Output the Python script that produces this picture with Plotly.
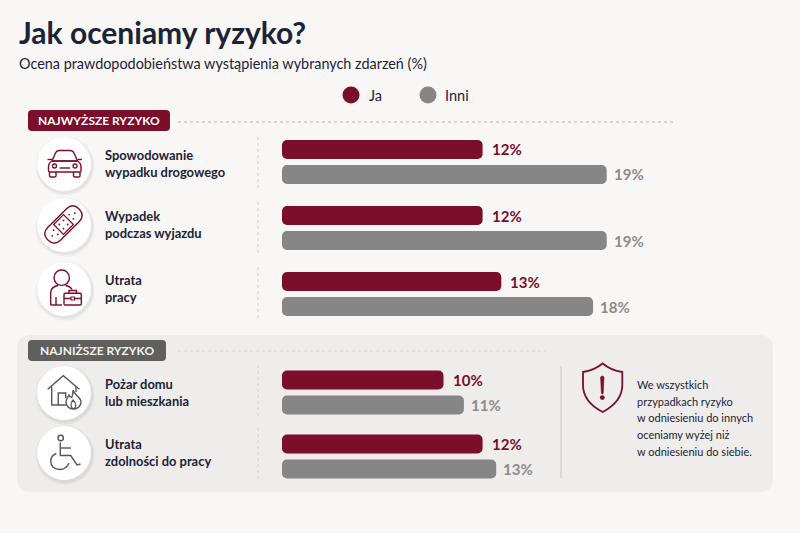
import plotly.graph_objects as go

categories = ["Spowodowanie<br>wypadku drogowego", "Wypadek<br>podczas wyjazdu", "Utrata<br>pracy",
              "Pożar domu<br>lub mieszkania", "Utrata<br>zdolności do pracy"]
ja_values = [11.8, 11.8, 12.9, 9.5, 11.8]
inni_values = [19.1, 19.1, 18.3, 10.7, 12.6]
ja_labels = ["12%", "12%", "13%", "10%", "12%"]
inni_labels = ["19%", "19%", "18%", "11%", "13%"]
series_names = ["Ja", "Inni"]
note_lines = ["We wszystkich", "przypadkach ryzyko", "w odniesieniu do innych", "oceniamy wyżej niż",
              "w odniesieniu do siebie."]

W, H = 800, 533
RED = "#7a0e2b"
GRAY = "#868686"
INK = "#1b2338"
FONT = "Lato"

# top of each row's pair of bars and of its icon circle, in page pixels
row_tops = [137, 203, 269, 367.5, 431.5]
row_height = 50
icon_y = [164, 225, 289, 393, 453]
divider_y = [(137, 188), (202, 253), (267, 318), (365, 416), (428, 482)]
note_y = [384, 401, 417, 434, 451]

shapes = []


def add_path(path, color=RED, width=1.4, fill="rgba(0,0,0,0)"):
    shapes.append(dict(type="path", path=path, xref="x", yref="y", layer="above", fillcolor=fill,
                       line=dict(color=color, width=width)))


def add_circle(cx, cy, r, fill="white", color=None, width=0, layer="below", opacity=1):
    shapes.append(dict(type="circle", x0=cx - r, x1=cx + r, y0=cy - r, y1=cy + r, xref="x", yref="y",
                       layer=layer, fillcolor=fill, opacity=opacity,
                       line=dict(color=color or "rgba(0,0,0,0)", width=width)))


def add_line(x0, y0, x1, y1, color, width=1.2, dash="solid"):
    shapes.append(dict(type="line", x0=x0, x1=x1, y0=y0, y1=y1, xref="x", yref="y", layer="below",
                       line=dict(color=color, width=width, dash=dash)))


def rrect(x0, y0, x1, y1, r):
    return (f"M {x0 + r} {y0} L {x1 - r} {y0} Q {x1} {y0} {x1} {y0 + r} L {x1} {y1 - r} Q {x1} {y1} {x1 - r} {y1} "
            f"L {x0 + r} {y1} Q {x0} {y1} {x0} {y1 - r} L {x0} {y0 + r} Q {x0} {y0} {x0 + r} {y0} Z")


def add_box(x0, y0, x1, y1, r, fill):
    shapes.append(dict(type="path", path=rrect(x0, y0, x1, y1, r), xref="x", yref="y", layer="below",
                       fillcolor=fill, line=dict(width=0)))


# grey panel behind the lower group
add_box(17, 335, 773, 492, 14, "#eeedeb")

# section badges and dotted rules
add_box(28, 110, 170, 131, 4, RED)
add_box(28, 340, 166, 361, 4, "#5f5f5e")
add_line(178, 122, 675, 122, "#cfa9b3", 1.2, "dot")
add_line(178, 351, 546, 351, "#d2d1ce", 1.2, "dot")

# dotted separators and icon circles with a soft shadow
for (d0, d1) in divider_y:
    add_line(258, d0, 258, d1, "#d8d7d5", 1.3, "dot")
for cy in icon_y:
    for r, op in [(30, 0.03), (29, 0.04), (28, 0.05)]:
        add_circle(65, cy + 2, r, fill="#555555", opacity=op)
    add_circle(64, cy, 27)

# car
add_path("M 52 161 L 55.5 153 Q 56.5 150.5 59.5 150.5 L 70 150.5 Q 73 150.5 74 153 L 77.5 161")
add_path("M 52 161 Q 48.5 163 48.5 167 L 48.5 171 Q 48.5 172 50 172 L 79.5 172 Q 81 172 81 171 "
         "L 81 167 Q 81 163 77.5 161 Z")
add_path("M 52 161 L 77.5 161")
add_path("M 49.5 172 L 49.5 176 Q 49.5 177 51 177 L 54.5 177 Q 56 177 56 176 L 56 172")
add_path("M 73.5 172 L 73.5 176 Q 73.5 177 75 177 L 78.5 177 Q 80 177 80 176 L 80 172")
add_path("M 59.5 168 L 70 168")
add_path("M 47.5 159.5 L 52 159.5")
add_path("M 77.5 159.5 L 82 159.5")
add_circle(54.5, 166, 2, fill="rgba(0,0,0,0)", color=RED, width=1.3, layer="above")
add_circle(75, 166, 2, fill="rgba(0,0,0,0)", color=RED, width=1.3, layer="above")


# plaster, drawn along its 45 degree axis
def pl(u, v):
    return f"{63.5 + 0.707 * u + 0.707 * v:.1f} {224.5 - 0.707 * u + 0.707 * v:.1f}"


add_path(f"M {pl(-13, -9)} L {pl(13, -9)} Q {pl(22, -9)} {pl(22, 0)} Q {pl(22, 9)} {pl(13, 9)} "
         f"L {pl(-13, 9)} Q {pl(-22, 9)} {pl(-22, 0)} Q {pl(-22, -9)} {pl(-13, -9)} Z")
add_path(f"M {pl(-7, -7)} L {pl(7, -7)} L {pl(7, 7)} L {pl(-7, 7)} Z", width=1.3)
for (u, v) in [(-3, -3), (3, -3), (-3, 3), (3, 3), (-11, -3), (-11, 3), (-16, 0), (11, -3), (11, 3), (16, 0)]:
    p = pl(u, v).split()
    add_circle(float(p[0]), float(p[1]), 0.9, fill=RED, layer="above")

# person with briefcase
add_circle(61.7, 277.7, 7.7, fill="rgba(0,0,0,0)", color=RED, width=1.4, layer="above")
add_path("M 50.7 305 L 50.7 293 Q 50.7 287 58 285.5")
add_path("M 65.5 285.5 Q 70 286 72 289.5")
add_path("M 50.7 305 L 62 305")
add_path("M 56 305 L 56 297")
add_path(rrect(64, 293.3, 81.3, 305, 1.2))
add_path("M 69 293.3 L 69 290.5 L 76.5 290.5 L 76.5 293.3")
add_path("M 64 298.5 L 71 298.5 M 74.5 298.5 L 81.3 298.5")
add_path("M 71 297 L 74.5 297 L 74.5 300 L 71 300 Z", width=1.1)

# house and flame
DARK = "#56565a"
add_path("M 47.7 389.3 L 63.3 375.7 L 79.3 389.3", color=DARK)
add_path("M 51.7 386.7 L 51.7 405 L 66 405", color=DARK)
add_path("M 58.3 405 L 58.3 393 L 65.7 393 L 65.7 398", color=DARK)
add_path("M 76 386.5 L 76 392", color=DARK)
add_path("M 73 390 C 74 395 81 397 81 402 C 81 406 77.7 409 73.5 409 C 69 409 66 406 66 402 "
         "C 66 399 68 397 69 395 C 70 397 71 397.5 72 397 C 73 395 73 392 73 390 Z", color=DARK)
add_path("M 73.5 409 C 70 407 70.5 403 73 400 C 76 403 77 407 73.5 409", color=DARK, width=1.2)

# wheelchair
add_circle(60.7, 438, 2.7, fill="rgba(0,0,0,0)", color=DARK, width=1.4, layer="above")
add_path("M 60.3 442.5 L 60.3 455.5 L 70.7 455.5 L 77 465 L 80.5 464", color=DARK)
add_path("M 60.3 448 L 71 448", color=DARK)
add_path("M 56.3 453.5 C 52.5 455 50.7 458.5 50.7 461.5 C 50.7 466 54.5 469.5 59.5 469.5 C 64 469.5 67.5 467 69 463",
         color=DARK)

# note on the right of the panel
add_line(561, 366, 561, 478, "#d3d2d0", 1.4)
add_path("M 602.7 363.5 C 597 368 590 371 583 372 L 583 385 C 583 398 593 407 602.7 412 "
         "C 612 407 622.3 398 622.3 385 L 622.3 372 C 615 371 608 368 602.7 363.5 Z", width=1.8)
add_path("M 600.6 377 Q 602.3 375 604 377 L 603.2 393.5 Q 602.3 394.5 601.4 393.5 Z", fill=RED, width=0.6)
add_circle(602.3, 397.6, 2.4, fill=RED, layer="above")

# legend
add_circle(351, 95, 8.5, fill=RED)
add_circle(428, 95, 8.5, fill=GRAY)


# annotations pad their text by about 2px, taken off x here
def note(x, y, text, size, color=INK, bold=False, xanchor="left", **kw):
    return dict(x=x - 2 if xanchor == "left" else x, y=y, text=f"<b>{text}</b>" if bold else text, xref="x", yref="y",
                showarrow=False, xanchor=xanchor, yanchor="middle", align="left",
                font=dict(family=FONT, size=size, color=color), **kw)


annotations = [
    note(19, 32, "Jak oceniamy ryzyko?", 30, bold=True),
    note(19, 63, "Ocena prawdopodobieństwa wystąpienia wybranych zdarzeń (%)", 14.4),
    note(369, 95, series_names[0], 14.5),
    note(445, 95, series_names[1], 14.5),
    note(99, 120.5, "NAJWYŻSZE RYZYKO", 12, color="white", bold=True, xanchor="center"),
    note(97, 350.5, "NAJNIŻSZE RYZYKO", 12, color="#f2f2f2", bold=True, xanchor="center"),
]
for line, ly in zip(note_lines, note_y):
    annotations.append(note(637, ly, line, 11))

fig = go.Figure()
layout_axes = {}
for i, cat in enumerate(categories):
    yname = f"y{i + 2}"
    fig.add_trace(go.Bar(
        x=[ja_values[i], inni_values[i]], y=series_names, base=0, orientation="h", xaxis="x2", yaxis=yname,
        marker=dict(color=[RED, GRAY], line=dict(width=0)), showlegend=False, width=0.76,
    ))
    top = row_tops[i]
    layout_axes[f"yaxis{i + 2}"] = dict(domain=[1 - (top + row_height) / H, 1 - top / H], anchor="x2",
                                        autorange="reversed", visible=False, type="category",
                                        categoryorder="array", categoryarray=series_names)
    annotations.append(note(105, icon_y[i] - 1, cat, 12.9, bold=True))
    annotations.append(dict(x=ja_values[i], y=series_names[0], xref="x2", yref=yname, xshift=7, text=f"<b>{ja_labels[i]}</b>",
                            showarrow=False, xanchor="left", yanchor="middle",
                            font=dict(family=FONT, size=15, color=RED)))
    annotations.append(dict(x=inni_values[i], y=series_names[1], xref="x2", yref=yname, xshift=5, text=f"<b>{inni_labels[i]}</b>",
                            showarrow=False, xanchor="left", yanchor="middle",
                            font=dict(family=FONT, size=15, color="#8c8c8c")))

fig.update_layout(
    width=W, height=H, margin=dict(l=0, r=0, t=0, b=0), autosize=False,
    paper_bgcolor="#f8f7f6", plot_bgcolor="rgba(0,0,0,0)",
    barcornerradius=5, showlegend=False, hovermode=False,
    xaxis=dict(domain=[0, 1], range=[0, W], visible=False, anchor="y", fixedrange=True),
    yaxis=dict(domain=[0, 1], range=[H, 0], visible=False, anchor="x", fixedrange=True),
    xaxis2=dict(domain=[282 / W, (282 + 17 * 25) / W], range=[0, 25], visible=False, anchor="y2", fixedrange=True),
    shapes=shapes, annotations=annotations,
    **layout_axes,
)

fig.write_html("out.html", config={"displayModeBar": False}, post_script="document.body.style.margin = '0';")
